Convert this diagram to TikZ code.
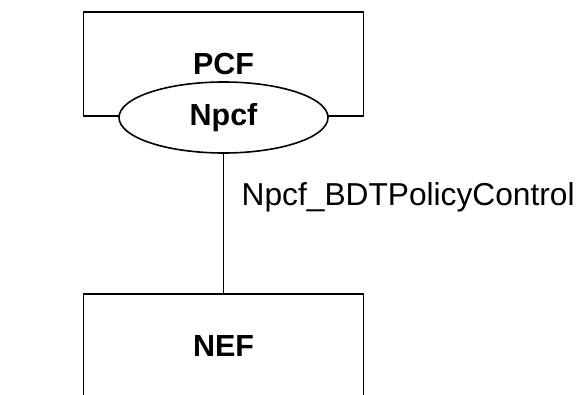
\documentclass[tikz,border=0pt]{standalone}
\usepackage{fontspec}
\setmainfont{Liberation Sans}
\usetikzlibrary{positioning,shapes.geometric}
\begin{document}
\begin{tikzpicture}[x=1pt,y=-1pt]
\tikzset{
    nf/.style={draw, line width=1.6pt, fill=white, inner sep=0pt,
        font=\fontsize{30.5}{30.5}\selectfont\bfseries},
    box/.style={nf, rectangle, minimum width=280, minimum height=104},
    svc/.style={nf, ellipse, minimum width=209, minimum height=71},
    link/.style={line width=1.6pt},
    ref point/.style={inner sep=0pt, anchor=base west,
        font=\fontsize{31.7}{31.7}\selectfont}}
\def\xc{223.5}

\useasboundingbox (0,0) rectangle (576,394);
\clip (0,0) rectangle (576,394);

\node[box] (PCF) at (\xc,64) {PCF};
\node[svc] (Npcf) at (\xc,117.5) {Npcf};
\node[box] (NEF) at (\xc,346) {NEF};

\draw[link] (Npcf) -- (NEF);
\node[ref point] (Ref) at (241.5,205) {Npcf\_BDTPolicyControl};

\end{tikzpicture}
\end{document}
